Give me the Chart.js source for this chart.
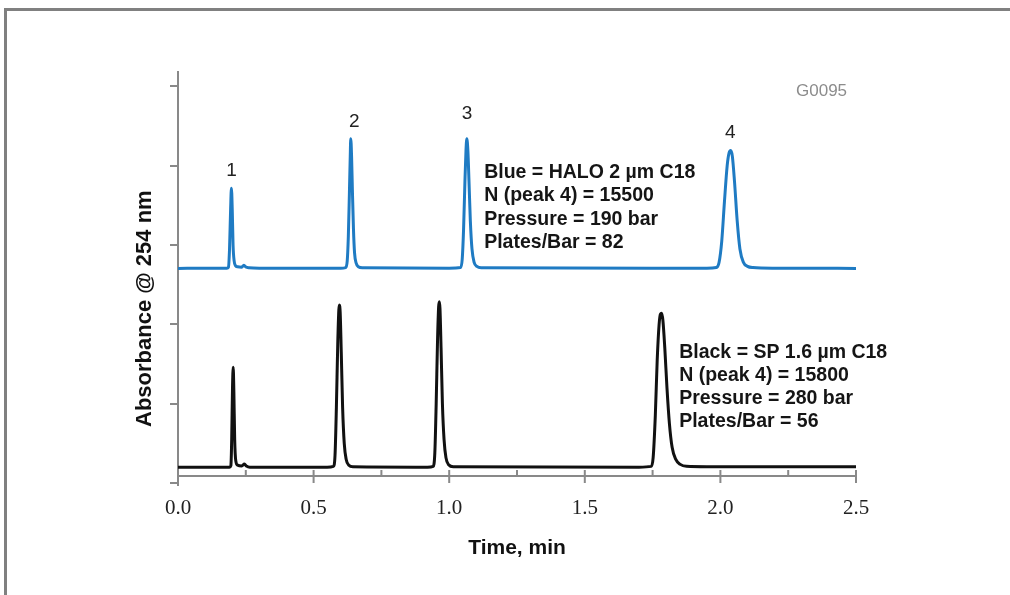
<!DOCTYPE html>
<html><head><meta charset="utf-8">
<script src="https://cdn.jsdelivr.net/npm/chart.js@4.4.1/dist/chart.umd.min.js"></script>
<style>
html,body{margin:0;padding:0;background:#fff;overflow:hidden;}
#wrap{position:relative;width:1010px;height:595px;}
#frame{position:absolute;left:4px;top:8px;width:1100px;height:700px;border-top:3px solid #808080;border-left:3px solid #808080;box-sizing:border-box;pointer-events:none;}
canvas{position:absolute;left:0;top:0;}
</style></head><body>
<div id="wrap"><canvas id="c" width="1010" height="595"></canvas><div id="frame"></div></div>
<script>
// ---- data ----
const blueTime = [0.000,0.100,0.180,0.186,0.190,0.194,0.197,0.200,0.203,0.207,0.212,0.220,0.235,0.243,0.250,0.262,0.300,
  0.600,0.618,0.624,0.628,0.632,0.635,0.637,0.640,0.643,0.647,0.651,0.657,0.665,0.680,
  1.000,1.042,1.048,1.053,1.058,1.062,1.065,1.069,1.073,1.078,1.084,1.092,1.102,1.118,
  1.950,1.985,1.995,2.005,2.015,2.025,2.032,2.038,2.044,2.052,2.062,2.072,2.085,2.100,2.120,2.200,2.500];
const blueAbs = [2.705,2.708,2.707,2.720,2.950,3.450,3.716,3.450,3.000,2.800,2.740,2.725,2.720,2.745,2.722,2.712,2.707,
  2.707,2.715,2.800,3.100,3.650,4.100,4.340,4.120,3.700,3.200,2.900,2.770,2.725,2.712,
  2.707,2.715,2.820,3.200,3.800,4.200,4.340,4.180,3.800,3.300,2.950,2.780,2.730,2.712,
  2.707,2.715,2.780,3.050,3.550,4.000,4.160,4.190,4.120,3.800,3.300,2.950,2.780,2.730,2.715,2.707,2.705];
const blackTime = [0.000,0.100,0.190,0.195,0.198,0.201,0.2035,0.206,0.209,0.213,0.220,0.235,0.245,0.252,0.265,
  0.550,0.573,0.579,0.584,0.589,0.593,0.595,0.598,0.602,0.607,0.613,0.620,0.630,0.645,
  0.920,0.941,0.947,0.952,0.957,0.961,0.9635,0.966,0.970,0.975,0.981,0.988,0.998,1.015,
  1.700,1.745,1.752,1.760,1.767,1.774,1.779,1.783,1.788,1.795,1.803,1.812,1.822,1.835,1.852,1.875,1.950,2.500];
const blackAbs = [0.198,0.200,0.200,0.220,0.550,1.200,1.460,1.150,0.550,0.280,0.225,0.215,0.240,0.215,0.200,
  0.200,0.210,0.350,0.950,1.750,2.180,2.245,2.150,1.650,0.950,0.500,0.300,0.225,0.205,
  0.200,0.210,0.380,1.000,1.800,2.220,2.286,2.200,1.700,1.000,0.550,0.320,0.230,0.205,
  0.200,0.210,0.320,0.850,1.550,2.000,2.130,2.140,2.050,1.700,1.200,0.750,0.450,0.300,0.235,0.210,0.205,0.205];
const peakLabels = ['1','2','3','4'];
const peakLabelTime = [0.197,0.650,1.066,2.036];
const peakLabelAbs = [3.93,4.55,4.65,4.41];
const blueInfo = ['Blue = HALO 2 µm C18','N (peak 4) = 15500','Pressure = 190 bar','Plates/Bar = 82'];
const blackInfo = ['Black = SP 1.6 µm C18','N (peak 4) = 15800','Pressure = 280 bar','Plates/Bar = 56'];
const minorTicks = [0.25,0.75,1.25,1.75,2.25];
const figureCode = 'G0095';
const xTitle = 'Time, min';
const yTitle = 'Absorbance @ 254 nm';

// ---- drawing ----
const AXIS_GREY = '#898989';
const axisCross = 0.088;

const extras = {
  id: 'extras',
  beforeDatasetsDraw(chart) {
    const {ctx, scales: {x, y}} = chart;
    const py = y.getPixelForValue(axisCross);
    ctx.save();
    ctx.strokeStyle = AXIS_GREY; ctx.lineWidth = 2;
    ctx.beginPath();
    ctx.moveTo(x.getPixelForValue(x.min), py);
    ctx.lineTo(x.getPixelForValue(x.max) + 1, py);
    x.ticks.forEach(t => {
      const px = x.getPixelForValue(t.value);
      ctx.moveTo(px, py - 6); ctx.lineTo(px, py + 7);
    });
    minorTicks.forEach(v => {
      const px = x.getPixelForValue(v);
      ctx.moveTo(px, py - 6); ctx.lineTo(px, py);
    });
    ctx.stroke();
    ctx.restore();
  },
  afterDatasetsDraw(chart) {
    const {ctx, scales: {x, y}} = chart;
    ctx.save();
    ctx.fillStyle = '#222';
    ctx.font = '19px "Liberation Sans", Arial, sans-serif';
    ctx.textAlign = 'center'; ctx.textBaseline = 'middle';
    peakLabels.forEach((l, i) => ctx.fillText(l, x.getPixelForValue(peakLabelTime[i]), y.getPixelForValue(peakLabelAbs[i])));
    ctx.fillStyle = '#8c8c8c';
    ctx.font = '17px "Liberation Sans", Arial, sans-serif';
    ctx.fillText(figureCode, x.getPixelForValue(2.373), y.getPixelForValue(4.935));
    ctx.fillStyle = '#151515';
    ctx.font = 'bold 19.5px "Liberation Sans", Arial, sans-serif';
    ctx.textAlign = 'left'; ctx.textBaseline = 'alphabetic';
    const bx = x.getPixelForValue(1.129), by = y.getPixelForValue(3.842);
    blueInfo.forEach((s, i) => ctx.fillText(s, bx, by + i * 23.3));
    const kx = x.getPixelForValue(1.848), ky = y.getPixelForValue(1.572);
    blackInfo.forEach((s, i) => ctx.fillText(s, kx, ky + i * 23));
    // y title
    ctx.translate(chart.chartArea.left - 33, y.getPixelForValue(2.197));
    ctx.rotate(-Math.PI / 2);
    ctx.textAlign = 'center'; ctx.textBaseline = 'middle';
    ctx.fillStyle = '#111';
    ctx.font = 'bold 22px "Liberation Sans", Arial, sans-serif';
    ctx.fillText(yTitle, 0, 0);
    ctx.restore();
  }
};

new Chart(document.getElementById('c'), {
  type: 'line',
  data: {
    datasets: [
      { label: 'Blue', data: blueTime.map((t, i) => ({x: t, y: blueAbs[i]})), borderColor: '#1f7bc3', borderWidth: 3,
        pointRadius: 0, cubicInterpolationMode: 'monotone', fill: false },
      { label: 'Black', data: blackTime.map((t, i) => ({x: t, y: blackAbs[i]})), borderColor: '#111111', borderWidth: 3,
        pointRadius: 0, cubicInterpolationMode: 'monotone', fill: false }
    ]
  },
  options: {
    responsive: false, animation: false, devicePixelRatio: 1,
    layout: { padding: { left: 0, right: 154, top: 72, bottom: 0 } },
    plugins: { legend: { display: false }, tooltip: { enabled: false } },
    scales: {
      x: {
        type: 'linear', min: 0, max: 2.5,
        border: { display: false },
        grid: { display: false, drawTicks: false },
        ticks: { stepSize: 0.5, padding: 11, color: '#222', font: { family: '"Liberation Serif", serif', size: 21 },
          callback: v => v.toFixed(1), maxRotation: 0 },
        title: { display: true, text: xTitle, color: '#111', font: { family: '"Liberation Sans Narrow", "Liberation Sans", Arial, sans-serif', size: 21, weight: 'bold' },
          padding: { top: 0, bottom: 34 } },
        afterFit: s => { s.height = 110; }
      },
      y: {
        type: 'linear', min: -0.025, max: 5.18,
        border: { display: true, color: AXIS_GREY, width: 2 },
        grid: { display: true, drawOnChartArea: false, drawTicks: true, tickLength: 8, color: AXIS_GREY, lineWidth: 2 },
        ticks: { display: false, stepSize: 1, includeBounds: false },
        afterFit: s => { s.width = 178; }
      }
    }
  },
  plugins: [extras]
});
</script>
</body></html>
